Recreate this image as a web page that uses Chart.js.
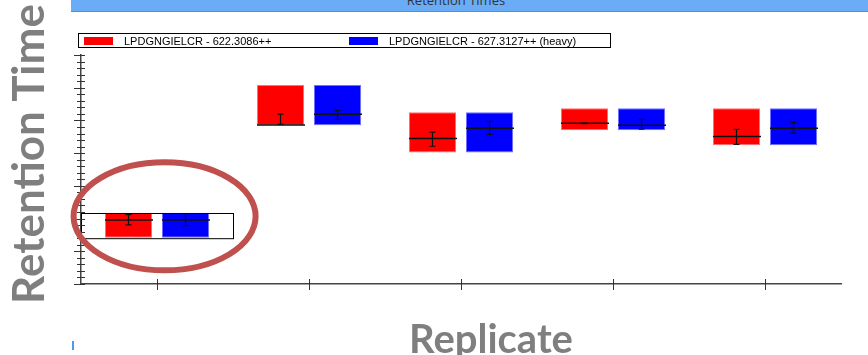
<!DOCTYPE html>
<html>
<head>
<meta charset="utf-8">
<script src="https://cdn.jsdelivr.net/npm/chart.js@4"></script>
<style>
  body { margin: 0; background: #fff; }
  #wrap { position: relative; width: 868px; height: 355px; overflow: hidden; }
  #header { position: absolute; left: 71px; top: 0; width: 797px; height: 11px; background: #6aacf6; border-bottom: 1px solid #4f8fd8; overflow: hidden; }
  #header span { position: absolute; left: 0; width: 770px; text-align: center; top: -9px; font: 13px "Open Sans", sans-serif; color: #333; }
  #legend { position: absolute; left: 78px; top: 33px; width: 531px; height: 13px; border: 1px solid #000; display: flex; font: 11px "Liberation Sans", Arial, sans-serif; color: #000; }
  .item { width: 265px; display: flex; align-items: center; padding-left: 5px; box-sizing: border-box; }
  .swatch { width: 29px; height: 8px; margin-right: 11px; }
  .ytitle { position: absolute; left: 27px; top: 154px; transform: translate(-50%, -50%) rotate(-90deg); font: bold 44px Lato, sans-serif; color: #7f7f7f; white-space: nowrap; }
  .xtitle { position: absolute; left: 491px; top: 338px; transform: translate(-50%, -50%); font: bold 40px Lato, sans-serif; color: #7f7f7f; white-space: nowrap; }
  #mark { position: absolute; left: 72px; top: 341px; width: 2px; height: 9px; background: #4a9af0; }
  #chart { position: absolute; left: 0; top: 0; }
</style>
</head>
<body>
<div id="wrap">
  <div id="header"><span>Retention Times</span></div>
  <canvas id="chart" width="868" height="355"></canvas>
  <div id="legend"></div>
  <div class="ytitle">Retention Time</div>
  <div class="xtitle">Replicate</div>
  <div id="mark"></div>
</div>
<script>
// replicates (names are not shown on the axis)
const replicates = ['Replicate 1', 'Replicate 2', 'Replicate 3', 'Replicate 4', 'Replicate 5'];
const seriesLabels = ['LPDGNGIELCR - 622.3086++', 'LPDGNGIELCR - 627.3127++ (heavy)'];
const seriesColors = ['#ff0000', '#0000ff'];
const seriesEdges = ['#ff7070', '#7070ff'];

// peak start / end (box), retention time (line) and error range
const lightStart = [1.41, 4.85, 4.02, 4.70, 4.24];
const lightEnd = [2.18, 6.08, 5.25, 5.37, 5.37];
const lightRT = [1.96, 4.86, 4.45, 4.91, 4.51];
const lightErrLow = [1.81, 4.88, 4.21, 4.90, 4.27];
const lightErrHigh = [2.12, 5.19, 4.64, 4.92, 4.73];

const heavyStart = [1.41, 4.85, 4.02, 4.70, 4.24];
const heavyEnd = [2.18, 6.08, 5.25, 5.37, 5.37];
const heavyRT = [1.96, 5.19, 4.76, 4.85, 4.76];
const heavyErrLow = [1.78, 5.03, 4.57, 4.73, 4.61];
const heavyErrHigh = [2.15, 5.31, 4.97, 5.03, 4.94];

// axis range (no tick labels are visible)
const yMin = 0, yMax = 7, yMinorStep = 0.2;
const selectedReplicate = 0;

const rtLines = [lightRT, heavyRT];
const errLows = [lightErrLow, heavyErrLow];
const errHighs = [lightErrHigh, heavyErrHigh];

// html legend
const legendEl = document.getElementById('legend');
seriesLabels.forEach((lab, i) => {
  legendEl.innerHTML += `<div class="item"><div class="swatch" style="background:${seriesColors[i]}"></div><span>${lab}</span></div>`;
});

const rtPlugin = {
  id: 'rtMarks',
  afterDatasetsDraw(chart) {
    const ctx = chart.ctx;
    const y = chart.scales.y;
    ctx.save();
    chart.data.datasets.forEach((ds, i) => {
      const meta = chart.getDatasetMeta(i);
      meta.data.forEach((bar, j) => {
        const half = bar.width / 2;
        const yl = y.getPixelForValue(rtLines[i][j]);
        ctx.strokeStyle = '#111';
        ctx.lineWidth = 1.5;
        ctx.beginPath();
        ctx.moveTo(bar.x - half, yl);
        ctx.lineTo(bar.x + half + 1, yl);
        ctx.stroke();
        const y1 = y.getPixelForValue(errLows[i][j]);
        const y2 = y.getPixelForValue(errHighs[i][j]);
        ctx.lineWidth = 1.2;
        ctx.beginPath();
        ctx.moveTo(bar.x, y1); ctx.lineTo(bar.x, y2);
        ctx.moveTo(bar.x - 3, y1); ctx.lineTo(bar.x + 3, y1);
        ctx.moveTo(bar.x - 3, y2); ctx.lineTo(bar.x + 3, y2);
        ctx.stroke();
      });
    });
    // selected replicate outline
    const x = chart.scales.x;
    const lo = Math.min(lightStart[selectedReplicate], heavyStart[selectedReplicate]);
    const hi = Math.max(lightEnd[selectedReplicate], heavyEnd[selectedReplicate]);
    const xl = x.getPixelForValue(selectedReplicate - 0.5);
    const xr = x.getPixelForValue(selectedReplicate + 0.5);
    ctx.strokeStyle = '#000';
    ctx.lineWidth = 1;
    ctx.strokeRect(Math.round(xl) + 0.5, Math.round(y.getPixelForValue(hi)) + 0.5, xr - xl, y.getPixelForValue(lo) - y.getPixelForValue(hi));
    ctx.restore();
  },
  afterDraw(chart) {
    const ctx = chart.ctx;
    const x = chart.scales.x, y = chart.scales.y;
    const ax = chart.chartArea.left, ay = chart.chartArea.bottom;
    ctx.save();
    ctx.strokeStyle = '#333';
    ctx.lineWidth = 1;
    // y ticks crossing the axis
    y.ticks.forEach(t => {
      const py = Math.round(y.getPixelForValue(t.value)) + 0.5;
      const major = Math.abs(t.value - Math.round(t.value)) < 1e-6;
      ctx.beginPath();
      ctx.moveTo(ax - (major ? 7 : 4), py);
      ctx.lineTo(ax + 4, py);
      ctx.stroke();
    });
    // x ticks at replicate centres
    replicates.forEach((r, i) => {
      const px = Math.round(x.getPixelForValue(i)) + 0.5;
      ctx.beginPath();
      ctx.moveTo(px, ay - 5);
      ctx.lineTo(px, ay + 6);
      ctx.stroke();
    });
    // red ellipse around the selected replicate
    const cx = x.getPixelForValue(selectedReplicate + 0.05);
    const cy = (y.getPixelForValue(lightStart[selectedReplicate]) + y.getPixelForValue(lightEnd[selectedReplicate])) / 2 - 9;
    ctx.strokeStyle = '#c0504d';
    ctx.lineWidth = 6;
    ctx.beginPath();
    ctx.ellipse(cx, cy, 91, 54, 0, 0, Math.PI * 2);
    ctx.stroke();
    ctx.restore();
  }
};

new Chart(document.getElementById('chart'), {
  type: 'bar',
  data: {
    labels: replicates,
    datasets: [
      {
        label: seriesLabels[0],
        data: lightStart.map((s, i) => [s, lightEnd[i]]),
        backgroundColor: seriesColors[0],
        borderColor: seriesEdges[0],
        borderWidth: 1,
        borderSkipped: false
      },
      {
        label: seriesLabels[1],
        data: heavyStart.map((s, i) => [s, heavyEnd[i]]),
        backgroundColor: seriesColors[1],
        borderColor: seriesEdges[1],
        borderWidth: 1,
        borderSkipped: false
      }
    ]
  },
  options: {
    responsive: false,
    animation: false,
    categoryPercentage: 0.75,
    barPercentage: 0.825,
    layout: { padding: { left: 81, right: 27, top: 55, bottom: 71 } },
    plugins: { legend: { display: false }, tooltip: { enabled: false } },
    scales: {
      x: {
        offset: true,
        ticks: { display: false },
        grid: { display: false, drawTicks: false },
        border: { display: true, color: '#444', width: 1.5 }
      },
      y: {
        min: yMin,
        max: yMax,
        ticks: { display: false, stepSize: yMinorStep },
        grid: { display: false, drawTicks: false },
        border: { display: true, color: '#444', width: 1.5 }
      }
    }
  },
  plugins: [rtPlugin]
});
</script>
</body>
</html>
